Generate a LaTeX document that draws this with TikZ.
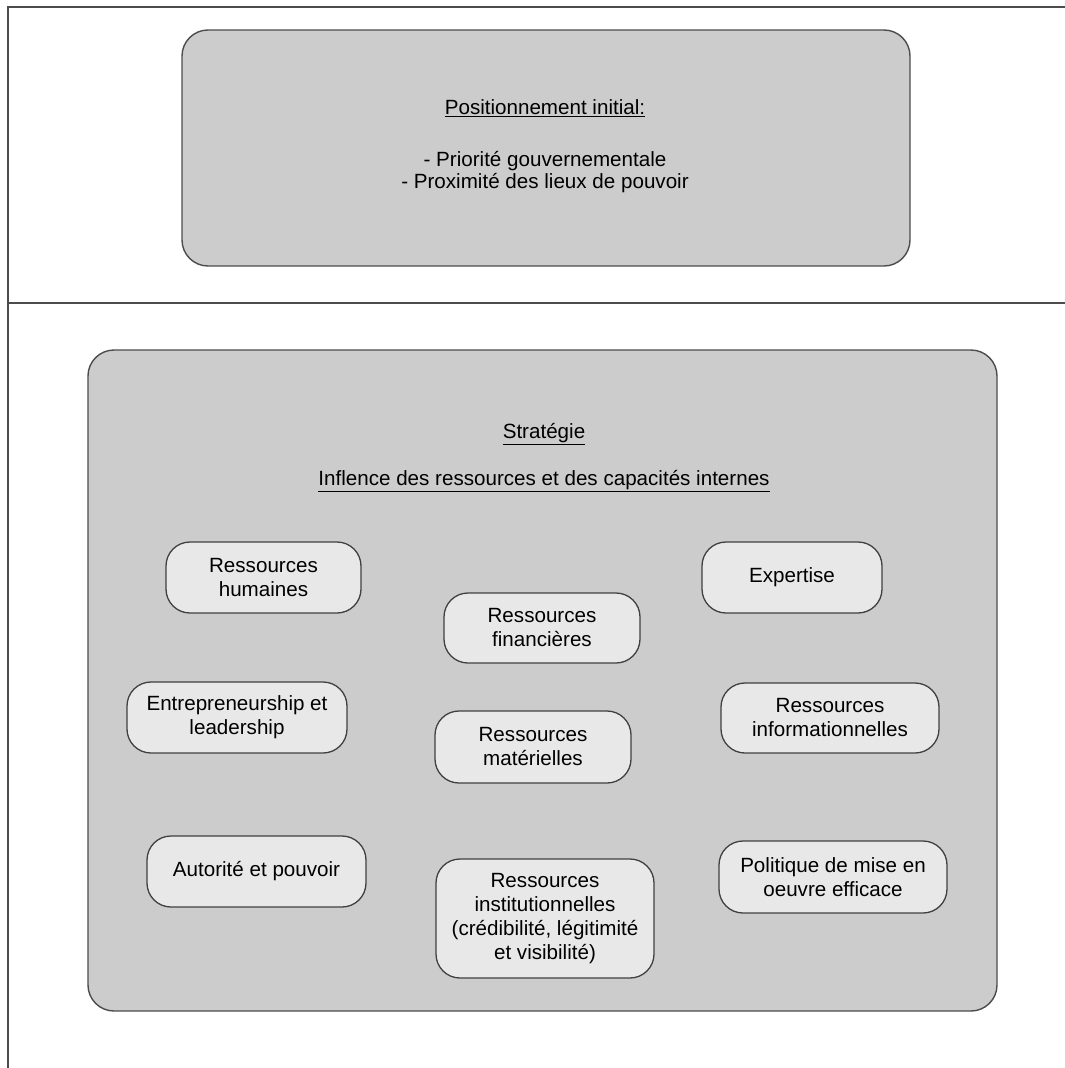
\documentclass[tikz,border=0pt]{standalone}
\usepackage{fontspec}
\setmainfont{Liberation Sans}
\begin{document}
\begin{tikzpicture}[x=1pt,y=-1pt,
  framerule/.style={draw=black!70,line width=1.2pt},
  bigbox/.style={draw=black!70,line width=1.4pt,fill=black!20,rounded corners=26pt},
  resbox/.style={draw=black!75,line width=1.3pt,fill=black!9,rounded corners=24pt,
    inner sep=0pt,align=center,font=\fontsize{20.6}{24}\selectfont},
  label/.style={inner sep=0pt,align=center,font=\fontsize{20.6}{22}\selectfont}]
\useasboundingbox (0,0) rectangle (1065,1068);
\fill[white] (0,0) rectangle (1065,1068);

% page frame and separator
\coordinate (tl) at (8,7);
\coordinate (tr) at (1065,7);
\coordinate (bl) at (8,1068);
\coordinate (sl) at (8,303);
\coordinate (sr) at (1065,303);
\draw[framerule] (tr) -- (tl) -- (bl);
\draw[framerule] (sl) -- (sr);

% upper panel
\node[bigbox,minimum width=728pt,minimum height=236pt] (topbox) at (546,148) {};
\node[label] (postitle) at (545,108) {\underline{Positionnement initial:}};
\node[label] (poslist) at (545,172) {- Priorité gouvernementale\\- Proximité des lieux de pouvoir};

% lower panel
\node[bigbox,minimum width=909pt,minimum height=661pt] (botbox) at (542.5,680.5) {};
\node[label] (strat) at (544,434) {\underline{Stratégie}};
\node[label] (infl) at (544,481) {\underline{Inflence des ressources et des capacités internes}};

% resources
\node[resbox,minimum width=195pt,minimum height=71pt] (hum) at (263.5,577.5) {Ressources\\humaines};
\node[resbox,minimum width=180pt,minimum height=71pt] (exp) at (792,577.5) {Expertise};
\node[resbox,minimum width=196pt,minimum height=70pt] (fin) at (542,628) {Ressources\\financières};
\node[resbox,minimum width=220pt,minimum height=71pt] (ent) at (237,717.5) {Entrepreneurship et\\leadership};
\node[resbox,minimum width=196pt,minimum height=72pt] (mat) at (533,747) {Ressources\\matérielles};
\node[resbox,minimum width=218pt,minimum height=70pt] (info) at (830,718) {Ressources\\informationnelles};
\node[resbox,minimum width=219pt,minimum height=71pt] (aut) at (256.5,871.5) {Autorité et pouvoir};
\node[resbox,minimum width=218pt,minimum height=119pt] (inst) at (545,918.5) {Ressources\\institutionnelles\\(crédibilité, légitimité\\et visibilité)};
\node[resbox,minimum width=228pt,minimum height=72pt] (pol) at (833,877) {Politique de mise en\\oeuvre efficace};
\end{tikzpicture}
\end{document}
